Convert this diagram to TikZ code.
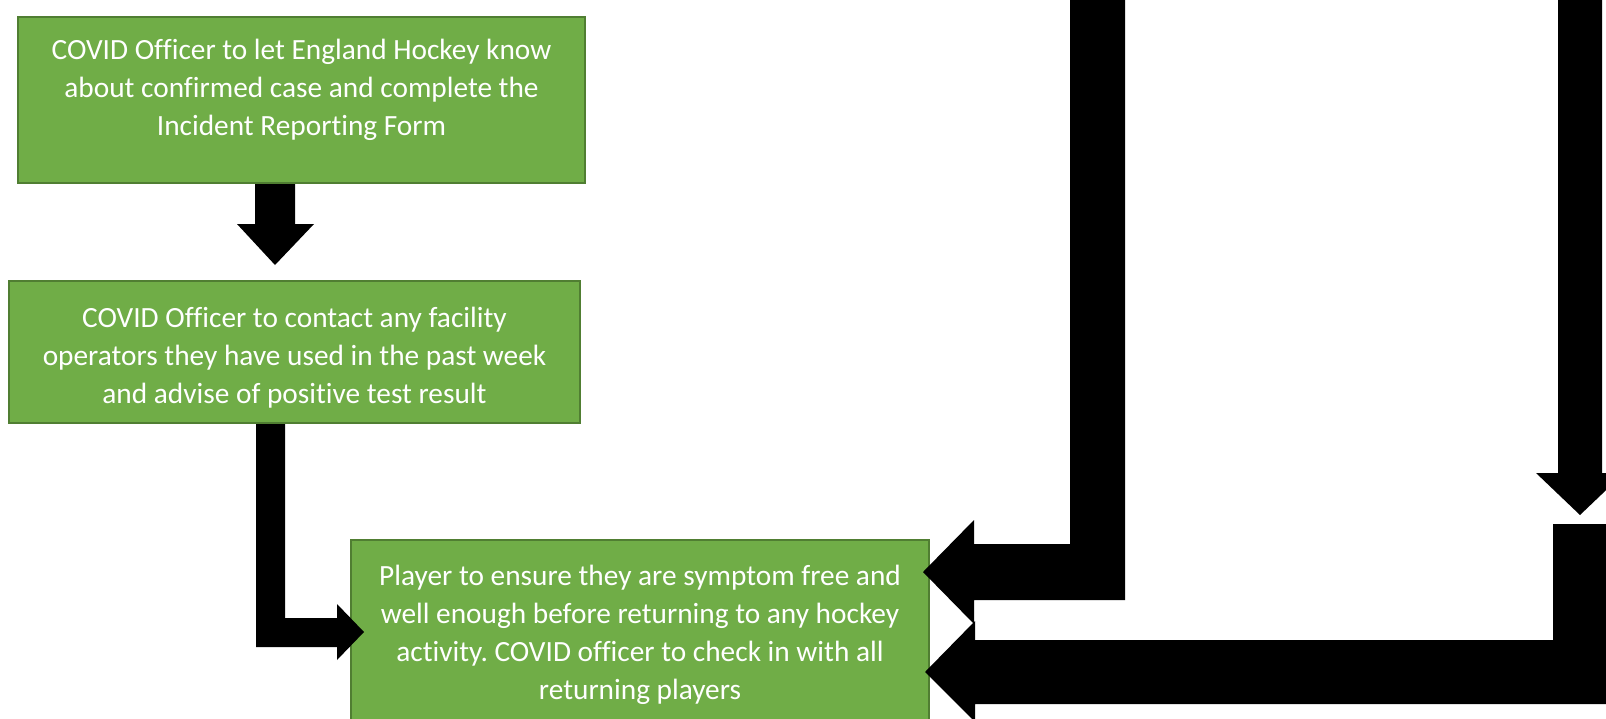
\documentclass[tikz,border=0pt]{standalone}
\usepackage{fontspec}
\setmainfont{Carlito}[Ligatures=NoCommon]
\frenchspacing
\usetikzlibrary{
  positioning,
  calc,
}
\newlength{\mypx}
\setlength{\mypx}{0.75pt}
\definecolor{boxgreen}{HTML}{70AD47}
\definecolor{boxline}{HTML}{507E32}
\tikzset{
  x=\mypx,
  y=-\mypx,
  step box/.style={
    draw=boxline,
    line width=2\mypx,
    fill=boxgreen,
    rectangle,
    inner sep=0pt
  },
  step text/.style={
    text=white,
    align=center,
    inner sep=0pt,
    font=\fontsize{22}{28.6}\selectfont
  },
  block arrow/.style={
    fill=black,
    draw=none
  }
}

\begin{document}
\begin{tikzpicture}
\useasboundingbox (0,0) rectangle (1606,718);
% Steps on the left
\node[step box, minimum width=567\mypx, minimum height=166\mypx] (report) at (301.5,100) {};
\node[step text] (reporttxt) at ([yshift=10\mypx]report.center)
  {COVID Officer to let England Hockey know\\about confirmed case and complete the\\Incident Reporting Form};
\node[step box, minimum width=571\mypx, minimum height=142\mypx] (venues) at (294.5,352) {};
\node[step text] (venuestxt) at ([yshift=-6\mypx]venues.center)
  {COVID Officer to contact any facility\\operators they have used in the past week\\and advise of positive test result};
% Return step
\node[step box, minimum width=578\mypx, minimum height=180\mypx] (return) at (640,630) {};
\node[step text] (returntxt) at ([yshift=-5\mypx]return.center)
  {Player to ensure they are symptom free and\\well enough before returning to any hockey\\activity. COVID officer to check in with all\\returning players};
% Free ends of the arrows coming from above
\coordinate (fromleft)  at (1097.5,-10);
\coordinate (fromright) at (1580,-10);
\coordinate (fromcorner) at (1612,524);
% report -> venues
\fill[block arrow] (report.south -| 255,0) |- (237,224) -- (275,265) -- (314,224) -| (report.south -| 295,0) -- cycle;
% venues -> return
\fill[block arrow] (venues.south -| 256,0) |- (337,647) -- (337,660) -- (364,632) -- (337,604) -- (337,618) -| (venues.south -| 285,0) -- cycle;
% from above (left) -> return
\fill[block arrow] (fromleft -| 1070,0) |- (974,544) -- (974,520) -- (923,572) -- (974,624) -- (974,600) -| (fromleft -| 1125,0) -- cycle;
% from above (right), pointing down
\fill[block arrow] (fromright -| 1558,0) -- (1558,473) -- (1536,473) -- (1580,515) -- (1624,473) -- (1602,473) -- (fromright -| 1602,0) -- cycle;
% from the right -> return
\fill[block arrow] (fromcorner -| 1553,0) |- (975,640) -- (975,621) -- (925,672) -- (975,722) -- (975,704) -| (fromcorner) -- cycle;
\end{tikzpicture}
\end{document}
